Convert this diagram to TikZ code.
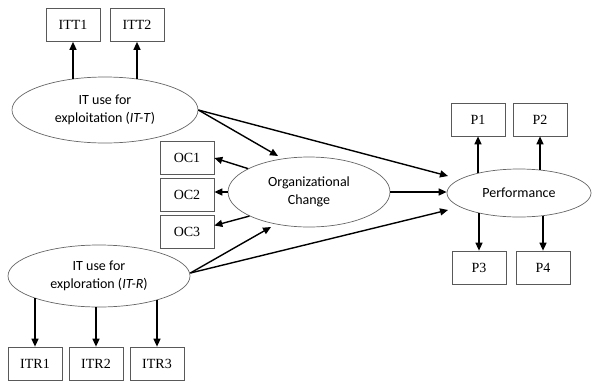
\documentclass[tikz,border=0pt]{standalone}
\usepackage{fontspec}
\setmainfont{Liberation Serif}
\newfontfamily\carlfont{Carlito}
\usetikzlibrary{shapes.geometric,arrows.meta}
\begin{document}
\begin{tikzpicture}[x=1pt,y=-1pt,
 box/.style={draw=black!65,line width=0.7pt,minimum width=54pt,minimum height=33pt,inner sep=0pt,font=\fontsize{14}{16}\selectfont},
 lat/.style={ellipse,draw=black!60,line width=0.7pt,inner sep=0pt,align=center,font=\carlfont\fontsize{14}{18}\selectfont},
 arr/.style={line width=1.4pt,-{Triangle[length=8pt,width=7pt]}}]
\useasboundingbox (0,0) rectangle (593,383);
% indicator boxes
\node[box] (ITT1) at (73,25) {ITT1};
\node[box] (ITT2) at (137,25) {ITT2};
\node[box] (OC1) at (187,158) {OC1};
\node[box] (OC2) at (187,194.5) {OC2};
\node[box] (OC3) at (187,231.5) {OC3};
\node[box] (P1) at (478,119.5) {P1};
\node[box] (P2) at (540,119.5) {P2};
\node[box] (P3) at (479,267.5) {P3};
\node[box] (P4) at (543,267.5) {P4};
\node[box] (ITR1) at (35,363.5) {ITR1};
\node[box] (ITR2) at (96,363.5) {ITR2};
\node[box] (ITR3) at (157,363.5) {ITR3};
% latent variables
\node[lat,minimum width=186pt,minimum height=66pt] (ITT) at (105,110) {IT use for\\exploitation (\textit{IT-T})};
\node[lat,minimum width=162pt,minimum height=70pt] (Org) at (309,192) {Organizational\\Change};
\node[lat,minimum width=144pt,minimum height=48pt] (Perf) at (519,193) {Performance};
\node[lat,minimum width=182pt,minimum height=62pt] (ITR) at (99,276) {IT use for\\exploration (\textit{IT-R})};
% free arrow ends
\coordinate (e1) at (278,156);
\coordinate (e2) at (448,176);
\coordinate (e3) at (271,227);
\coordinate (e4) at (448,210);
% measurement arrows
\draw[arr] ([yshift=-2pt]ITT.north -| ITT1.south) -- (ITT1.south);
\draw[arr] ([yshift=-2pt]ITT.north -| ITT2.south) -- (ITT2.south);
\draw[arr] ([yshift=9pt]ITR.south -| ITR1.north) -- (ITR1.north);
\draw[arr] (ITR.south -| ITR2.north) -- (ITR2.north);
\draw[arr] ([yshift=7pt]ITR.south -| ITR3.north) -- (ITR3.north);
\draw[arr] ([yshift=-4pt]Perf.north -| P1.south) -- (P1.south);
\draw[arr] ([yshift=-1pt]Perf.north -| P2.south) -- (P2.south);
\draw[arr] ([yshift=4pt]Perf.south -| P3.north) -- (P3.north);
\draw[arr] ([yshift=1.5pt]Perf.south -| P4.north) -- (P4.north);
\draw[arr] (Org.159) -- (OC1.east);
\draw[arr] (Org.west) -- (Org.west -| OC2.east);
\draw[arr] (Org.202) -- ([yshift=6pt]OC3.east);
% structural arrows
\draw[arr] (ITT.east) -- (e1);
\draw[arr] (ITT.east) -- (e2);
\draw[arr] ([yshift=3pt]ITR.east) -- (e3);
\draw[arr] ([yshift=3pt]ITR.east) -- (e4);
\draw[arr] (Org.east) -- (Org.east -| Perf.west);
\end{tikzpicture}
\end{document}
